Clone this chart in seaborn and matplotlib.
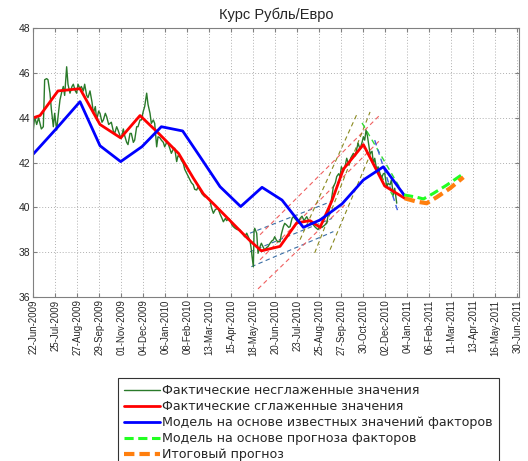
import seaborn as sns
import matplotlib.pyplot as plt
import pandas as pd
import numpy as np

# x values are days since 22-Jun-2009
tick_labels = [
    "22-Jun-2009", "25-Jul-2009", "27-Aug-2009", "29-Sep-2009", "01-Nov-2009",
    "04-Dec-2009", "06-Jan-2010", "08-Feb-2010", "13-Mar-2010", "15-Apr-2010",
    "18-May-2010", "20-Jun-2010", "23-Jul-2010", "25-Aug-2010", "27-Sep-2010",
    "30-Oct-2010", "02-Dec-2010", "04-Jan-2011", "06-Feb-2011", "11-Mar-2011",
    "13-Apr-2011", "16-May-2011", "30-Jun-2011",
]
tick_step = 33

# raw daily rate
raw_days = [0, 2, 5, 8, 12, 15, 17, 20, 22, 25, 27, 30, 32, 35, 38, 40, 43, 45, 47, 50,
            52, 55, 58, 60, 63, 65, 67, 70, 72, 75, 77, 80, 82, 85, 88, 90, 93, 95, 98, 100,
            103, 105, 108, 110, 113, 117, 120, 122, 125, 127, 130, 132, 135, 137, 140, 142,
            145, 147, 150, 152, 155, 157, 160, 162, 165, 167, 170, 172, 175, 177, 180, 182,
            185, 187, 190, 192, 195, 197, 200, 202, 205, 207, 210, 212, 215, 217, 220, 222,
            225, 227, 230, 232, 235, 237, 240, 242, 245, 247, 250, 253, 257, 260, 262, 265,
            267, 270, 273, 277, 280, 283, 285, 288, 290, 293, 295, 298, 300, 303, 306, 310,
            313, 317, 320, 322, 325, 327, 328, 330, 331, 332, 335, 337, 340, 342, 345, 347,
            350, 352, 355, 358, 360, 362, 365, 367, 370, 372, 375, 377, 380, 383, 385, 388,
            390, 392, 395, 397, 400, 403, 406, 410, 413, 417, 420, 423, 427, 430, 433, 437,
            440, 443, 445, 447, 450, 453, 455, 458, 460, 462, 465, 468, 470, 473, 476, 480,
            483, 485, 487, 490, 493, 495, 497, 499, 501, 503, 505, 508, 510, 512, 515, 517,
            520, 522, 525, 527, 530, 532, 535, 537, 540, 542, 545]
raw_vals = [43.45, 44.05, 43.7, 44.0, 43.5, 43.6, 45.7, 45.75, 45.7, 45.1, 44.4, 43.6, 44.2,
            43.45, 44.3, 44.8, 45.2, 45.4, 45.0, 46.28, 45.5, 45.1, 45.4, 45.5, 45.2, 45.1,
            45.5, 45.3, 45.4, 45.2, 45.5, 45.0, 44.9, 45.2, 44.7, 44.2, 44.5, 43.9, 44.3, 44.2,
            43.8, 43.9, 44.2, 44.05, 43.7, 43.8, 43.4, 43.3, 43.6, 43.45, 43.2, 43.08, 43.5,
            43.2, 42.9, 42.8, 43.3, 43.3, 42.9, 43.0, 43.6, 43.6, 43.9, 43.9, 44.3, 44.5, 45.1,
            44.6, 44.2, 43.75, 43.9, 43.75, 42.7, 43.15, 43.1, 43.0, 42.9, 42.7, 42.9, 42.86,
            42.6, 42.41, 42.6, 42.64, 42.04, 42.3, 42.26, 42.1, 41.96, 41.7, 41.52, 41.4, 41.22,
            41.1, 41.0, 40.8, 40.77, 40.9, 40.77, 40.6, 40.47, 40.47, 40.4, 40.32, 40.0, 39.73,
            39.9, 39.95, 39.7, 39.5, 39.35, 39.5, 39.4, 39.5, 39.43, 39.2, 39.13, 39.05, 39.0,
            38.98, 38.85, 38.68, 38.84, 38.7, 38.5, 38.1, 37.8, 37.34, 38.9, 39.06, 38.84,
            37.94, 38.24, 38.39, 38.2, 38.09, 38.2, 38.24, 38.39, 38.5, 38.54, 38.68, 38.5,
            38.46, 38.46, 38.8, 39.13, 39.28, 39.2, 39.1, 39.13, 39.5, 39.58, 39.5, 39.4, 39.28,
            39.5, 39.6, 39.4, 39.58, 39.4, 39.3, 39.21, 39.1, 39.0, 39.13, 39.1, 39.2, 39.28,
            39.8, 40.03, 40.33, 40.92, 41.1, 41.37, 41.5, 41.37, 41.81, 41.6, 41.9, 42.19, 41.9,
            42.2, 42.41, 42.3, 42.6, 42.86, 42.6, 42.9, 43.15, 43.0, 43.45, 43.2, 42.8, 42.4,
            42.5, 41.96, 42.19, 41.67, 41.81, 41.5, 41.3, 41.5, 41.52, 40.9, 41.07, 41.0, 41.22,
            40.55, 40.85, 40.18]

# smoothed actual values
smooth_days = [0, 10, 37, 70, 100, 131, 160, 188, 218, 240, 255, 272, 305, 325, 342, 370,
               395, 415, 430, 448, 465, 495, 527, 557]
smooth_vals = [44.0, 44.1, 45.2, 45.3, 43.7, 43.1, 44.1, 43.3, 42.4, 41.3, 40.6, 40.1, 39.1,
               38.5, 38.05, 38.25, 39.3, 39.4, 39.1, 40.3, 41.7, 42.8, 40.95, 40.4]

# model on known factor values
model_days = [0, 35, 70, 100, 131, 163, 192, 224, 250, 280, 311, 343, 373, 405, 430, 463,
              495, 525, 556]
model_vals = [42.38, 43.53, 44.72, 42.75, 42.04, 42.71, 43.6, 43.41, 42.26, 40.92, 40.03,
              40.89, 40.32, 39.1, 39.43, 40.15, 41.22, 41.81, 40.55]

# model on forecast factors
fcf_days = [556, 575, 585, 600, 620, 645]
fcf_vals = [40.55, 40.45, 40.37, 40.62, 40.99, 41.5]

# final forecast
final_days = [557, 575, 590, 605, 625, 645]
final_vals = [40.4, 40.25, 40.18, 40.45, 40.85, 41.34]

# trend channels: (start day, start value, end day, end value)
blue_chan = [(325, 38.84, 448, 40.27), (325, 38.01, 448, 39.5), (327, 37.34, 450, 38.91)]
red_chan = [(340, 38.77, 520, 44.13), (340, 37.65, 520, 43.0), (337, 36.35, 467, 40.1)]
olive_chan = [(400, 38.55, 485, 44.14), (422, 37.96, 505, 44.26), (445, 38.1, 508, 42.55)]
decl_lime = [(493, 43.77, 557, 40.5), (499, 42.56, 543, 40.33)]
decl_blue = [(512, 43.0, 547, 39.79)]

labels = [
    "Фактические несглаженные значения",
    "Фактические сглаженные значения",
    "Модель на основе известных значений факторов",
    "Модель на основе прогноза факторов",
    "Итоговый прогноз",
]

sns.set_style("ticks")
plt.rcParams["font.family"] = ["Liberation Sans", "DejaVu Sans"]

fig = plt.figure(figsize=(5.28, 4.61), dpi=100)
ax = fig.add_axes([0.0631, 0.3564, 0.920, 0.5822])


def chan(lines, color, lw=0.8):
    for d0, v0, d1, v1 in lines:
        df = pd.DataFrame({"d": [d0, d1], "v": [v0, v1]})
        sns.lineplot(data=df, x="d", y="v", ax=ax, color=color, lw=lw,
                     linestyle=(0, (4, 3)), legend=False)


chan(blue_chan, "#3a6ea5")
chan(red_chan, "#f06060")
chan(olive_chan, "#8a8a20")
chan(decl_lime, "#33dd33", 1.0)
chan(decl_blue, "#4060e0", 1.0)

series = [
    (raw_days, raw_vals, "#2a7a2a", 1.0, "-"),
    (smooth_days, smooth_vals, "#ff0000", 2.0, "-"),
    (model_days, model_vals, "#0000ff", 2.0, "-"),
    (fcf_days, fcf_vals, "#22ff22", 2.2, (0, (3, 1.5))),
    (final_days, final_vals, "#ff7f0e", 3.0, (0, (2.5, 1.2))),
]
handles = []
for (d, v, c, lw, ls), lab in zip(series, labels):
    df = pd.DataFrame({"d": d, "v": v})
    sns.lineplot(data=df, x="d", y="v", ax=ax, color=c, lw=lw, linestyle=ls, legend=False)
    handles.append(ax.lines[-1])

ax.set_xlim(0, 728.5)
ax.set_ylim(36, 48)
ax.set_xticks(np.arange(len(tick_labels)) * tick_step)
ax.set_xticklabels(tick_labels, rotation=90, fontsize=6.9)
ax.set_yticks(np.arange(36, 49, 2))
ax.tick_params(axis="y", labelsize=7.5)
ax.tick_params(direction="in", length=3, color="#808080", top=True, right=True, pad=2)
ax.set_xlabel("")
ax.set_ylabel("")
ax.grid(True, linestyle=(0, (1, 2)), color="#b0b0b0", lw=0.7)
for s in ax.spines.values():
    s.set_color("#808080")
    s.set_linewidth(0.8)

fig.text(276 / 528, 1 - 15 / 461, "Курс Рубль/Евро", ha="center", va="center", fontsize=10.5)

leg = fig.legend(handles, labels, loc="upper left", bbox_to_anchor=(118 / 528, 1 - 378 / 461),
                 prop={"family": "DejaVu Sans", "size": 9.1}, frameon=True, fancybox=False,
                 edgecolor="black", handlelength=2.8, handletextpad=0.15, labelspacing=0.24,
                 borderpad=0.5, borderaxespad=0)
leg.get_frame().set_linewidth(0.8)

fig.savefig("out.png", dpi=100)
